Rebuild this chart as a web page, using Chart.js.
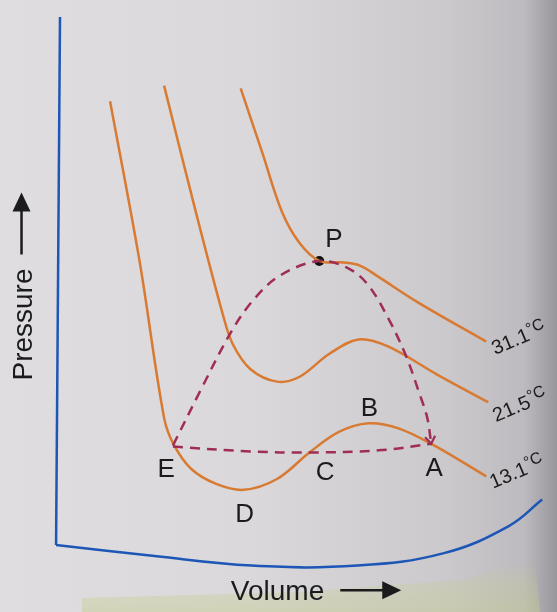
<!DOCTYPE html>
<html>
<head>
<meta charset="utf-8">
<script src="https://cdn.jsdelivr.net/npm/chart.js@4/dist/chart.umd.min.js"></script>
<style>
  html, body { margin: 0; padding: 0; background: #dcdadb; }
  #wrap { width: 557px; height: 612px; position: relative; }
</style>
</head>
<body>
<div id="wrap"><canvas id="c" width="557" height="612"></canvas></div>
<script>
// Isotherms of carbon dioxide: pressure against volume (arbitrary units)

// 13.1 °C isotherm (liquid branch, van der Waals loop E-D-C-B-A, gas branch)
const iso13V = [1.10, 1.70, 2.20, 2.40, 2.76, 3.26, 3.82, 4.50, 5.16, 5.76, 6.36, 6.96, 7.68, 8.76];
const iso13P = [8.40, 5.45, 2.55, 2.05, 1.60, 1.33, 1.22, 1.42, 1.91, 2.29, 2.45, 2.36, 2.05, 1.47];

// 21.5 °C isotherm
const iso21V = [2.20, 2.82, 3.40, 3.60, 3.96, 4.50, 4.96, 5.56, 6.16, 6.76, 7.76, 8.80];
const iso21P = [8.69, 6.45, 4.45, 3.91, 3.45, 3.22, 3.31, 3.73, 4.00, 3.87, 3.35, 2.84];

// 31.1 °C critical isotherm
const iso31V = [3.76, 4.20, 4.60, 4.96, 5.36, 5.86, 6.20, 6.56, 7.36, 8.76];
const iso31P = [8.64, 7.45, 6.36, 5.78, 5.45, 5.42, 5.36, 5.16, 4.69, 3.96];

// Coexistence dome E -> P -> A
const domeV = [2.38, 2.96, 3.56, 4.02, 4.56, 5.36, 5.96, 6.36, 6.76, 7.12, 7.40, 7.56, 7.64];
const domeP = [2.04, 3.09, 4.13, 4.73, 5.18, 5.45, 5.31, 5.00, 4.40, 3.71, 3.00, 2.55, 2.07];

// Tie line A - E at the 13.1 °C vapour pressure
const tieV = [2.38, 3.96, 5.16, 6.56, 7.64];
const tieP = [2.02, 1.93, 1.91, 1.95, 2.07];

// Critical point P
const critV = [5.36];
const critP = [5.45];

// Axis frame
const yAxisV = [0.08, 0.00];
const yAxisP = [9.96, 0.20];
const xAxisV = [0.00, 1.96, 3.98, 6.14, 7.90, 9.22, 9.90];
const xAxisP = [0.20, 0.00, -0.18, -0.18, 0.05, 0.55, 1.04];

// Point labels and isotherm temperatures
const pointNames = ['P', 'B', 'E', 'C', 'D', 'A'];
const pointNameV = [5.66, 6.38, 2.24, 5.48, 3.84, 7.70];
const pointNameP = [5.85, 2.73, 1.60, 1.55, 0.78, 1.62];

const tempNames = ['31.1', '21.5', '13.1'];
const tempV = [8.94, 8.96, 8.90];
const tempP = [3.71, 2.47, 1.24];

const xTitle = 'Volume';
const yTitle = 'Pressure';

const toXY = (vs, ps) => vs.map((v, i) => ({ x: v, y: ps[i] }));

const ORANGE = '#d97a32';
const MAROON = '#a02d55';
const BLUE = '#1d56b6';
const INK = '#1b1b1d';

const paperPlugin = {
  id: 'paper',
  beforeDraw(chart) {
    const { ctx, width, height } = chart;
    ctx.save();
    const g = ctx.createLinearGradient(0, 0, width, 0);
    g.addColorStop(0, '#dfdddf');
    g.addColorStop(0.45, '#dad8da');
    g.addColorStop(0.8, '#cbc9cc');
    g.addColorStop(0.94, '#bdbbbf');
    g.addColorStop(1, '#98969b');
    ctx.fillStyle = g;
    ctx.fillRect(0, 0, width, height);
    // faint green-tinted band at the foot of the page
    const gg = ctx.createLinearGradient(0, 560, 0, height);
    gg.addColorStop(0, 'rgba(196,204,140,0)');
    gg.addColorStop(0.45, 'rgba(196,204,140,0.25)');
    gg.addColorStop(1, 'rgba(196,204,140,0.45)');
    ctx.fillStyle = gg;
    ctx.beginPath();
    ctx.moveTo(82, height);
    ctx.lineTo(82, 598);
    ctx.lineTo(300, 592);
    ctx.lineTo(460, 580);
    ctx.lineTo(535, 560);
    ctx.lineTo(540, height);
    ctx.closePath();
    ctx.fill();
    ctx.restore();
  }
};

const annotatePlugin = {
  id: 'annotate',
  afterDatasetsDraw(chart) {
    const { ctx } = chart;
    const xs = chart.scales.x, ys = chart.scales.y;
    const px = v => xs.getPixelForValue(v);
    const py = p => ys.getPixelForValue(p);
    ctx.save();

    // arrow head at the end of the dome branch (A)
    const meta = chart.getDatasetMeta(3);
    const pts = meta.data;
    const tip = pts[pts.length - 1], prev = pts[pts.length - 2];
    const ang = Math.atan2(tip.y - prev.y, tip.x - prev.x);
    ctx.strokeStyle = MAROON;
    ctx.lineWidth = 2.2;
    ctx.beginPath();
    ctx.moveTo(tip.x - 9 * Math.cos(ang - 0.6), tip.y - 9 * Math.sin(ang - 0.6));
    ctx.lineTo(tip.x, tip.y);
    ctx.lineTo(tip.x - 9 * Math.cos(ang + 0.6), tip.y - 9 * Math.sin(ang + 0.6));
    ctx.stroke();

    // point letters
    ctx.fillStyle = INK;
    ctx.font = '26px "Liberation Sans", Arial, sans-serif';
    ctx.textAlign = 'center';
    ctx.textBaseline = 'middle';
    pointNames.forEach((t, i) => ctx.fillText(t, px(pointNameV[i]), py(pointNameP[i]) + 1));

    // isotherm temperatures
    tempNames.forEach((t, i) => {
      ctx.save();
      ctx.translate(px(tempV[i]), py(tempP[i]));
      ctx.rotate(-0.4);
      ctx.textAlign = 'left';
      ctx.textBaseline = 'alphabetic';
      ctx.font = '20px "Liberation Sans", Arial, sans-serif';
      ctx.fillText(t, 0, 0);
      const w = ctx.measureText(t).width;
      ctx.font = '16px "Liberation Sans", Arial, sans-serif';
      ctx.fillText('°C', w, -6);
      ctx.restore();
    });

    // axis titles with arrows
    ctx.font = '28px "Liberation Sans", Arial, sans-serif';
    ctx.textAlign = 'left';
    ctx.textBaseline = 'alphabetic';
    const vx = px(3.56), vy = py(-0.82);
    ctx.fillText(xTitle, vx, vy);
    const vw = ctx.measureText(xTitle).width;
    const ay = vy - 10;
    ctx.strokeStyle = INK;
    ctx.lineWidth = 2.5;
    ctx.beginPath();
    ctx.moveTo(vx + vw + 16, ay);
    ctx.lineTo(vx + vw + 62, ay);
    ctx.stroke();
    ctx.beginPath();
    ctx.moveTo(vx + vw + 77, ay);
    ctx.lineTo(vx + vw + 58, ay - 9);
    ctx.lineTo(vx + vw + 58, ay + 9);
    ctx.closePath();
    ctx.fill();

    ctx.save();
    ctx.translate(px(-0.50), py(3.24));
    ctx.rotate(-Math.PI / 2);
    ctx.fillText(yTitle, 0, 0);
    const pw = ctx.measureText(yTitle).width;
    ctx.beginPath();
    ctx.moveTo(pw + 14, -10);
    ctx.lineTo(pw + 60, -10);
    ctx.stroke();
    ctx.beginPath();
    ctx.moveTo(pw + 76, -10);
    ctx.lineTo(pw + 57, -19);
    ctx.lineTo(pw + 57, -1);
    ctx.closePath();
    ctx.fill();
    ctx.restore();

    ctx.restore();
  }
};

const line = (data, color, extra) => Object.assign({
  data, borderColor: color, borderWidth: 2.5, showLine: true,
  pointRadius: 0, tension: 0.35, fill: false, clip: false
}, extra || {});

new Chart(document.getElementById('c'), {
  type: 'scatter',
  data: {
    datasets: [
      line(toXY(xAxisV, xAxisP), BLUE, { tension: 0.4 }),
      line(toXY(yAxisV, yAxisP), BLUE, { tension: 0 }),
      line(toXY(tieV, tieP), MAROON, { borderDash: [10, 7], tension: 0.4 }),
      line(toXY(domeV, domeP), MAROON, { borderDash: [10, 7] }),
      line(toXY(iso13V, iso13P), ORANGE),
      line(toXY(iso21V, iso21P), ORANGE),
      line(toXY(iso31V, iso31P), ORANGE),
      { data: toXY(critV, critP), pointRadius: 5, pointBackgroundColor: '#111', pointBorderWidth: 0, showLine: false }
    ]
  },
  options: {
    responsive: false,
    animation: false,
    devicePixelRatio: 1,
    layout: { padding: 0 },
    scales: {
      x: { type: 'linear', display: false, min: -1.04, max: 10.1 },
      y: { type: 'linear', display: false, min: -0.945, max: 10.18 }
    },
    plugins: { legend: { display: false }, tooltip: { enabled: false } },
    events: []
  },
  plugins: [paperPlugin, annotatePlugin]
});
</script>
</body>
</html>
